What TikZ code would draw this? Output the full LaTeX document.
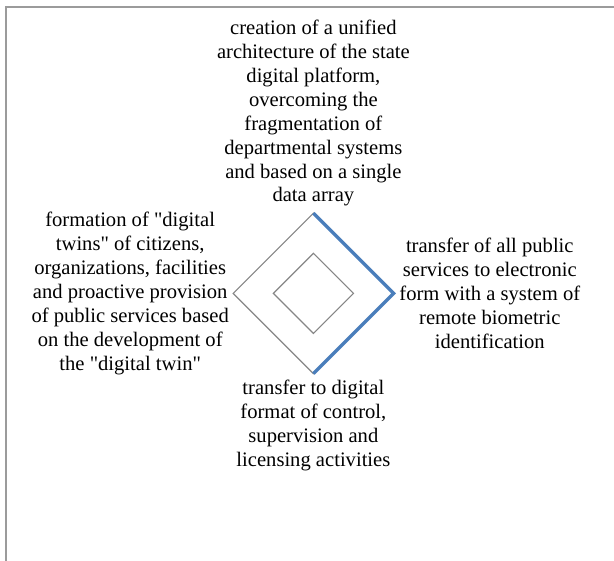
\documentclass[tikz,border=0pt]{standalone}
\usepackage{fontspec}
\setmainfont{Liberation Serif}
\usepackage{xcolor}
\usetikzlibrary{positioning}
\definecolor{seriesblue}{RGB}{74,126,187}
\definecolor{gridgray}{RGB}{134,134,134}
\definecolor{framegray}{RGB}{155,155,155}
\newcommand{\dq}{\textquotedbl}

\begin{document}
\begin{tikzpicture}[
      x=1pt, y=-1pt,
      axislabel/.style={align=center, inner sep=0pt, font=\fontsize{20.6}{23.9}\selectfont},
      grid/.style={draw=gridgray, line width=1.2pt, line join=miter},
      series/.style={draw=seriesblue, line width=3.4pt, line join=miter}
    ]
    \useasboundingbox (0,0) rectangle (614,561);

    % Chart border
    \draw[framegray, line width=1.8pt] (6,561) -- (6,7.2) -- (614,7.2);

    % Radar axes
    \coordinate (c) at (313.4,293.4);
    \coordinate (outtop) at (313.4,213.2);
    \coordinate (outright) at (393.6,293.4);
    \coordinate (outbottom) at (313.4,373.6);
    \coordinate (outleft) at (233.2,293.4);
    \coordinate (intop) at (313.4,253.3);
    \coordinate (inright) at (353.5,293.4);
    \coordinate (inbottom) at (313.4,333.5);
    \coordinate (inleft) at (273.3,293.4);

    % Grid
    \draw[grid] (outtop) -- (outright) -- (outbottom) -- (outleft) -- cycle;
    \draw[grid] (intop) -- (inright) -- (inbottom) -- (inleft) -- cycle;

    % Series
    \draw[series] (outtop) -- (outright) -- (outbottom);

    % Labels
    \node[axislabel] (platform) at (313.4,113.3) {creation of a unified\\architecture of the state\\digital platform,\\overcoming the\\fragmentation of\\departmental systems\\and based on a single\\data array};
    \node[axislabel] (services) at (489.8,293.4) {transfer of all public\\services to electronic\\form with a system of\\remote biometric\\identification};
    \node[axislabel] (control) at (313.4,425.4) {transfer to digital\\format of control,\\supervision and\\licensing activities};
    \node[axislabel] (twins) at (130.2,293.4) {formation of \dq digital\\twins\dq{} of citizens,\\organizations, facilities\\and proactive provision\\of public services based\\on the development of\\the \dq digital twin\dq};
  \end{tikzpicture}
\end{document}
